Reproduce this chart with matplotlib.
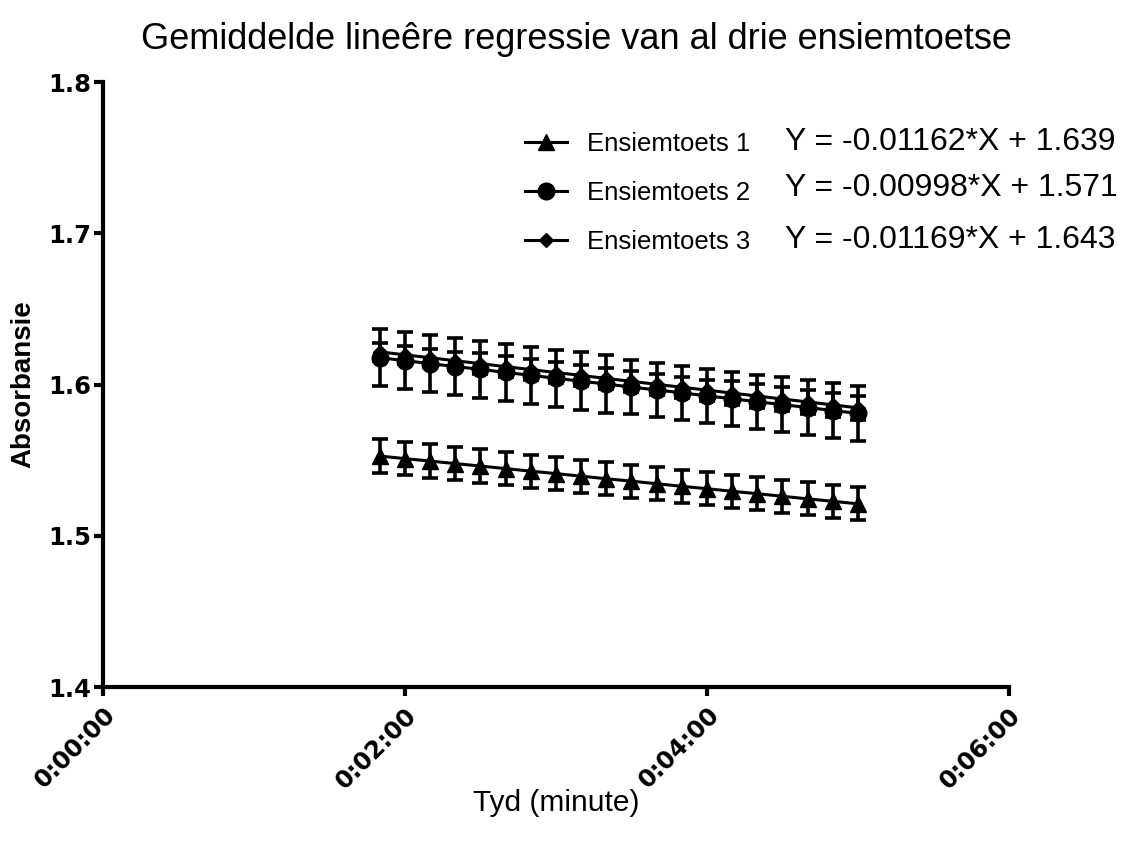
import matplotlib
matplotlib.use("Agg")
import matplotlib.pyplot as plt
from matplotlib.ticker import FuncFormatter, MultipleLocator

plt.rcParams['font.family'] = ['Liberation Sans', 'DejaVu Sans']

# tyd in sekondes
tyd = [110, 120, 130, 140, 150, 160, 170, 180, 190, 200,
       210, 220, 230, 240, 250, 260, 270, 280, 290, 300]

toets1 = [1.5527, 1.5510, 1.5494, 1.5477, 1.5461, 1.5444, 1.5427, 1.5411, 1.5394, 1.5377,
          1.5361, 1.5344, 1.5327, 1.5311, 1.5294, 1.5278, 1.5261, 1.5244, 1.5228, 1.5211]
toets2 = [1.6177, 1.6158, 1.6138, 1.6119, 1.6100, 1.6080, 1.6061, 1.6041, 1.6022, 1.6003,
          1.5983, 1.5964, 1.5945, 1.5925, 1.5906, 1.5886, 1.5867, 1.5848, 1.5828, 1.5809]
toets3 = [1.6216, 1.6196, 1.6177, 1.6157, 1.6138, 1.6118, 1.6099, 1.6079, 1.6060, 1.6040,
          1.6021, 1.6001, 1.5982, 1.5963, 1.5943, 1.5924, 1.5904, 1.5885, 1.5865, 1.5846]

fout1 = [0.011] * 20
fout2 = [0.019, 0.019, 0.019, 0.019, 0.019, 0.019, 0.019, 0.019, 0.019, 0.019,
         0.018, 0.018, 0.018, 0.018, 0.018, 0.018, 0.018, 0.018, 0.018, 0.018]
fout3 = [0.006, 0.006, 0.006, 0.006, 0.007, 0.007, 0.007, 0.007, 0.007, 0.007,
         0.007, 0.007, 0.007, 0.007, 0.008, 0.008, 0.008, 0.008, 0.008, 0.008]

etikette = ['Ensiemtoets 1', 'Ensiemtoets 2', 'Ensiemtoets 3']
vergelykings = ['Y = -0.01162*X + 1.639',
                'Y = -0.00998*X + 1.571',
                'Y = -0.01169*X + 1.643']


def tyd_fmt(s, pos):
    s = int(round(s))
    return '%d:%02d:%02d' % (s // 3600, (s % 3600) // 60, s % 60)


fig = plt.figure(figsize=(11.29, 8.49), dpi=100)
ax = fig.add_axes([0.0912, 0.1908, 0.8025, 0.7126])

reekse = [(toets1, fout1, '^', 11), (toets2, fout2, 'o', 12), (toets3, fout3, 'D', 7)]
handles = []
for (y, e, m, ms), lab in zip(reekse, etikette):
    h = ax.errorbar(tyd, y, yerr=e, color='black', marker=m, markersize=ms,
                    linewidth=2.2, elinewidth=2.6, capsize=6, capthick=2.6,
                    label=lab)
    handles.append(h)

ax.set_xlim(0, 360)
ax.set_ylim(1.4, 1.8)
ax.xaxis.set_major_locator(MultipleLocator(120))
ax.xaxis.set_major_formatter(FuncFormatter(tyd_fmt))
ax.yaxis.set_major_locator(MultipleLocator(0.1))

for side in ['top', 'right']:
    ax.spines[side].set_visible(False)
for side in ['left', 'bottom']:
    ax.spines[side].set_linewidth(3)
ax.tick_params(width=3, length=6.5, labelsize=17.5)
ax.tick_params(axis='y', pad=2)
ax.tick_params(axis='x', pad=5)
for lbl in ax.get_xticklabels() + ax.get_yticklabels():
    lbl.set_fontweight('bold')
    lbl.set_family('DejaVu Sans')
for lbl in ax.get_xticklabels():
    lbl.set_rotation(45)
    lbl.set_ha('right')
    lbl.set_rotation_mode('anchor')

ax.set_xlabel('Tyd (minute)', fontsize=21.5)
ax.xaxis.set_label_coords(0.5, -0.192)
ax.xaxis.label.set_va('center')
ax.set_ylabel('Absorbansie', fontsize=20, fontweight='bold')
ax.yaxis.set_label_coords(-0.0883, 0.5)
ax.yaxis.label.set_va('center')

fig.text(0.511, 0.953, 'Gemiddelde lineêre regressie van al drie ensiemtoetse',
         fontsize=26, ha='center', va='center')

leg_handles = [h.lines[0] for h in handles]
ax.legend(leg_handles, etikette, loc='upper left', bbox_to_anchor=(0.4658, 0.917),
          frameon=False, fontsize=18.5, handlelength=1.63, labelspacing=0.97,
          handletextpad=0.78, borderpad=0, borderaxespad=0)

for i, (eq, yy) in enumerate(zip(vergelykings, [142, 188, 240])):
    fig.text(785 / 1129, 1 - yy / 849, eq, fontsize=23, va='center')

fig.savefig('out.png', dpi=100)
